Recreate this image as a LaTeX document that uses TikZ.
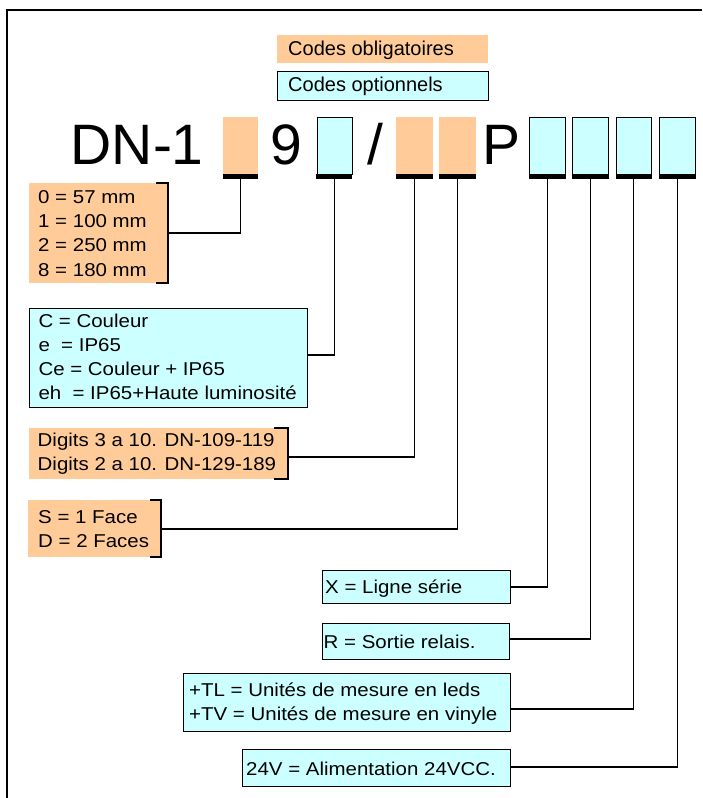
\documentclass[tikz,border=0pt]{standalone}
\usepackage{fontspec}
\setmainfont{Liberation Sans}
\newfontfamily\boxfont[FakeStretch=1.1]{Liberation Sans}
\definecolor{ora}{RGB}{255,204,153}
\definecolor{cya}{RGB}{204,255,255}
\newcommand{\lines}[1]{\begin{tabular}[t]{@{}l@{}}#1\end{tabular}}
\begin{document}
\begin{tikzpicture}[x=1pt,y=-1pt,
  obox/.style={fill=ora, draw=none, inner sep=0pt, anchor=north west},
  cbox/.style={fill=cya, draw=black, line width=1.3pt, inner sep=0pt, anchor=north west},
  barbox/.style={fill=black, draw=none, inner sep=0pt, anchor=north west, minimum height=5pt},
  txt/.style={inner sep=0pt, anchor=base west, font=\boxfont\fontsize{18.6}{24.3}\selectfont},
  legtxt/.style={inner sep=0pt, anchor=base west, font=\fontsize{20}{24}\selectfont},
  bigtxt/.style={inner sep=0pt, anchor=base west, font=\fontsize{57}{60}\selectfont},
  conn/.style={line width=1.3pt, line join=miter},
  brk/.style={line width=1.3pt, line join=miter}]
\useasboundingbox (0,0) rectangle (702,798);
% frame
\draw[line width=2pt] (7,798) -- (7,9.5) -- (702,9.5);
% legend
\node[obox, minimum width=211pt, minimum height=28pt] (lego) at (277,35) {};
\node[legtxt] (legot) at (288,55) {Codes obligatoires};
\node[cbox, minimum width=211pt, minimum height=29pt] (legc) at (277,71) {};
\node[legtxt] (legct) at (288,91.7) {Codes optionnels};
% big code text
\node[bigtxt] (dn) at (70.5,164) {DN-1};
\node[bigtxt] (nine) at (270.6,164) {9};
\node[bigtxt] (slash) at (367,164) {/};
\node[bigtxt] (pp) at (482.5,164) {P};
% code boxes
\node[obox, minimum width=35pt, minimum height=57pt] (k1) at (223,117) {};
\node[cbox, minimum width=35pt, minimum height=57pt] (k2) at (316.5,117) {};
\node[obox, minimum width=37pt, minimum height=57pt] (k3) at (396,117) {};
\node[obox, minimum width=37pt, minimum height=57pt] (k4) at (439,117) {};
\node[cbox, minimum width=36pt, minimum height=57pt] (k5) at (529,117) {};
\node[cbox, minimum width=36pt, minimum height=57pt] (k6) at (572,117) {};
\node[cbox, minimum width=35pt, minimum height=57pt] (k7) at (616,117) {};
\node[cbox, minimum width=36pt, minimum height=57pt] (k8) at (659,117) {};
% bars
\node[barbox, minimum width=35pt] (b1) at (223,174) {};
\node[barbox, minimum width=36pt] (b2) at (316,174) {};
\node[barbox, minimum width=37pt] (b3) at (396,174) {};
\node[barbox, minimum width=37pt] (b4) at (439,174) {};
\node[barbox, minimum width=37pt] (b5) at (528.5,174) {};
\node[barbox, minimum width=37pt] (b6) at (571.5,174) {};
\node[barbox, minimum width=36pt] (b7) at (615.5,174) {};
\node[barbox, minimum width=37pt] (b8) at (658.5,174) {};
% description boxes
\node[obox, minimum width=139pt, minimum height=100pt] (d1) at (29,183) {};
\draw[brk] (156,183) -- (168,183) -- (168,283) -- (156,283);
\node[txt] (t1) at (38,203.3) {\lines{0 = 57 mm\\1 = 100 mm\\2 = 250 mm\\8 = 180 mm}};
\coordinate (p1) at (168,233);

\node[cbox, minimum width=278pt, minimum height=99pt] (d2) at (29,308) {};
\node[txt] (t2) at (38.3,327) {\lines{C = Couleur\\e\ \ = IP65\\Ce = Couleur + IP65\\eh\ \ = IP65+Haute luminosité}};
\coordinate (p2) at (307,355);

\node[obox, minimum width=259pt, minimum height=51pt] (d3) at (29,428) {};
\draw[brk] (274,428) -- (288,428) -- (288,479) -- (274,479);
\node[txt] (t3) at (37.5,446) {\lines{Digits 3 a 10. DN-109-119\\Digits 2 a 10. DN-129-189}};
\coordinate (p3) at (288,457);

\node[obox, minimum width=133pt, minimum height=57pt] (d4) at (28,500) {};
\draw[brk] (150,500) -- (161,500) -- (161,557) -- (150,557);
\node[txt] (t4) at (38,523) {\lines{S = 1 Face\\D = 2 Faces}};
\coordinate (p4) at (161,529);

\node[cbox, minimum width=188pt, minimum height=33pt] (d5) at (322,570) {};
\node[txt] (t5) at (325,593) {X = Ligne série};
\coordinate (p5) at (510,587);

\node[cbox, minimum width=187pt, minimum height=36pt] (d6) at (322,623) {};
\node[txt] (t6) at (323.5,648) {R = Sortie relais.};
\coordinate (p6) at (509,639);

\node[cbox, minimum width=327pt, minimum height=58pt] (d7) at (183,673) {};
\node[txt] (t7) at (189,696) {\lines{+TL = Unités de mesure en leds\\+TV = Unités de mesure en vinyle}};
\coordinate (p7) at (510,709);

\node[cbox, minimum width=268pt, minimum height=37pt] (d8) at (242,749) {};
\node[txt] (t8) at (246,775) {24V = Alimentation 24VCC.};
\coordinate (p8) at (510,767);
% connectors
\draw[conn] (p1) -| (b1.south);
\draw[conn] (p2) -| (b2.south);
\draw[conn] (p3) -| (b3.south);
\draw[conn] (p4) -| (b4.south);
\draw[conn] (p5) -| (b5.south);
\draw[conn] (p6) -| (b6.south);
\draw[conn] (p7) -| (b7.south);
\draw[conn] (p8) -| (b8.south);
\end{tikzpicture}
\end{document}
